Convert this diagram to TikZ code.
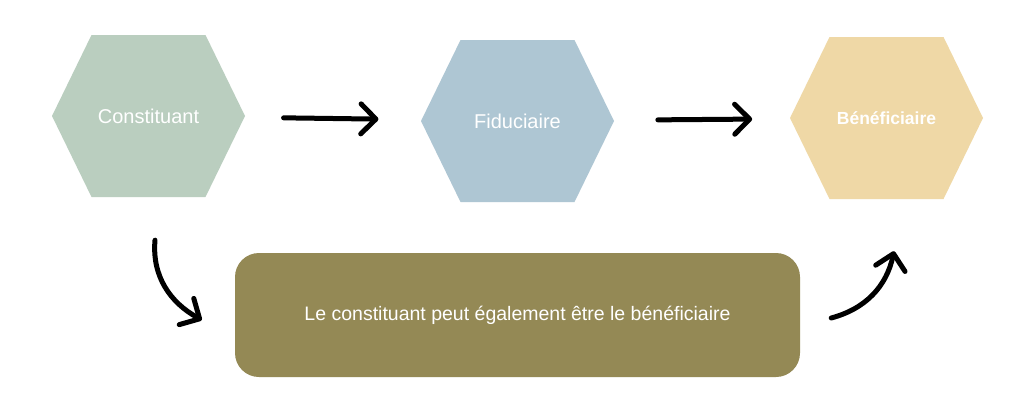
\documentclass[tikz,border=0pt]{standalone}
\usepackage{fontspec}
\setmainfont{Liberation Sans}
\usetikzlibrary{shapes.symbols,arrows.meta}

\definecolor{sage}{HTML}{BACEBF}
\definecolor{steel}{HTML}{AEC6D3}
\definecolor{sand}{HTML}{EFD8A6}
\definecolor{notebg}{HTML}{948955}

\tikzstyle{h} = [signal, signal to=east and west, signal pointer angle=128, minimum width=193pt, minimum height=162pt, inner sep=0pt, draw=none, text=white, font=\fontsize{20}{23}\selectfont]
\tikzstyle{n} = [rectangle, rounded corners=24pt, minimum width=565pt, minimum height=124pt, fill=notebg, text=white, font=\fontsize{19.5}{22}\selectfont]
\tikzstyle{a} = [line width=5pt, line cap=round, -{Straight Barb[length=15pt,width=30pt,round]}]

\begin{document}
\begin{tikzpicture}[node distance=369pt]
\path[use as bounding box, fill=white] (0,0) rectangle (1024pt,-407pt);

\node[h, fill=sage] (constituant) at (148.5pt,-116pt) {Constituant};
\node[h, fill=steel] (fiduciaire) [right of=constituant, yshift=-5pt] {Fiduciaire};
\node[h, fill=sand, font=\fontsize{17.5}{21}\selectfont] (beneficiaire) [right of=fiduciaire, yshift=3pt] {\textbf{Bénéficiaire}};

\node[n] (note) [below of=fiduciaire, yshift=175pt] {Le constituant peut également être le bénéficiaire};

\draw[a, shorten <=39pt, shorten >=43pt] (constituant) -- (fiduciaire);
\draw[a, shorten <=44pt, shorten >=38pt] (fiduciaire) -- (beneficiaire);

\draw[a] ([xshift=6.5pt,yshift=-43pt]constituant.south) to[out=-95,in=151]
  ([xshift=-33pt,yshift=-5pt]note.west);
\draw[a] ([xshift=31pt,yshift=-3pt]note.east) to[out=15,in=-102]
  ([xshift=7.5pt,yshift=-52pt]beneficiaire.south);

\end{tikzpicture}
\end{document}
